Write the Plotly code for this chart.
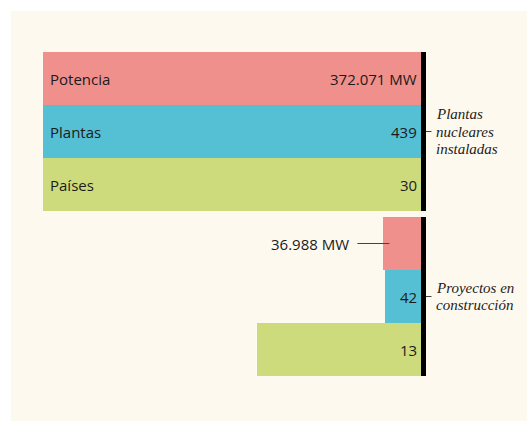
import plotly.graph_objects as go

# ---- data ----
categories = ["Potencia", "Plantas", "Países"]
installed = [372071, 439, 30]
construction = [36988, 42, 13]
units = [" MW", "", ""]
group_labels = [["Plantas", "nucleares", "instaladas"], ["Proyectos en", "construcción"]]

# ---- style ----
colors = ["#f0908d", "#55bfd4", "#cddb7c"]
cream = "#fef9ee"
txt = "#1b1b1b"
sans = "Open Sans"
serif = "Liberation Serif"
GAP = 6 / 53  # gap between groups in bar units

W, H = 527, 421
ML, MR, MT, MB = 43, 106, 52, 45
PW, PH = W - ML - MR, H - MT - MB

def fmt(v, u):
    return f"{v:,}".replace(",", ".") + u

fig = go.Figure()
groups = [installed, construction]
ypos = []
for g, vals in enumerate(groups):
    ratios = [v / installed[i] for i, v in enumerate(vals)]
    ys = [i + g * (3 + GAP) for i in range(len(vals))]
    ypos.append(ys)
    fig.add_trace(go.Bar(
        x=ratios, y=ys, orientation="h", width=1,
        marker=dict(color=colors, line=dict(width=0)),
        hoverinfo="skip", showlegend=False,
    ))

annotations = []
shapes = []

# cream background panel
shapes.append(dict(
    type="rect", xref="paper", yref="paper", layer="below",
    x0=(11 - ML) / PW, x1=(W - ML) / PW,
    y0=-(MB) / PH, y1=1 + (MT - 11) / PH,
    fillcolor=cream, line=dict(width=0),
))

# category labels (top group)
for i, c in enumerate(categories):
    annotations.append(dict(
        x=1, y=ypos[0][i], xref="x", yref="y", text=c, showarrow=False,
        xanchor="left", yanchor="middle", xshift=5,
        font=dict(family=sans, size=15, color=txt),
    ))

# value labels
for g, vals in enumerate(groups):
    for i, v in enumerate(vals):
        ratio = v / installed[i]
        if g == 1 and i == 0:
            annotations.append(dict(
                x=ratio, y=ypos[g][i], xref="x", yref="y", text=fmt(v, units[i]),
                showarrow=False, xanchor="right", yanchor="middle", xshift=-32,
                font=dict(family=sans, size=15, color=txt),
            ))
            shapes.append(dict(
                type="line", xref="x", yref="y", xsizemode="pixel", xanchor=ratio,
                x0=-26, x1=6, y0=ypos[g][i], y1=ypos[g][i],
                line=dict(color="#444444", width=1),
            ))
        else:
            annotations.append(dict(
                x=0, y=ypos[g][i], xref="x", yref="y", text=fmt(v, units[i]),
                showarrow=False, xanchor="right", yanchor="middle", xshift=-2.5,
                font=dict(family=sans, size=15, color=txt),
            ))

# black bracket bars, ticks and group labels
LINE_H = 17.5
for g in range(2):
    ys = ypos[g]
    shapes.append(dict(
        type="rect", xref="paper", yref="y",
        x0=1, x1=1 + 5 / PW, y0=ys[0] - 0.5, y1=ys[-1] + 0.5,
        fillcolor="#000000", line=dict(width=0),
    ))
    shapes.append(dict(
        type="line", xref="paper", yref="y",
        x0=1 + 5 / PW, x1=1 + 10.5 / PW, y0=ys[1], y1=ys[1],
        line=dict(color="#444444", width=1),
    ))
    lines = group_labels[g]
    n = len(lines)
    for k, ln in enumerate(lines):
        annotations.append(dict(
            x=1 + 13 / PW, y=ys[1], xref="paper", yref="y", text=ln, showarrow=False,
            xanchor="left", yanchor="middle", align="left",
            yshift=((n - 1) / 2 - k) * LINE_H,
            font=dict(family=serif, size=15, color="#222222", style="italic"),
        ))

y_bottom = ypos[-1][-1] + 0.5
fig.update_layout(
    width=W, height=H,
    margin=dict(l=ML, r=MR, t=MT, b=MB, autoexpand=False),
    paper_bgcolor="white", plot_bgcolor="rgba(0,0,0,0)",
    xaxis=dict(range=[1, 0], visible=False, fixedrange=True),
    yaxis=dict(range=[y_bottom, -0.5], visible=False, fixedrange=True),
    barmode="overlay", bargap=0,
    annotations=annotations, shapes=shapes,
)

fig.write_html("out.html", config={"displayModeBar": False},
               post_script="document.body.style.margin='0';")
